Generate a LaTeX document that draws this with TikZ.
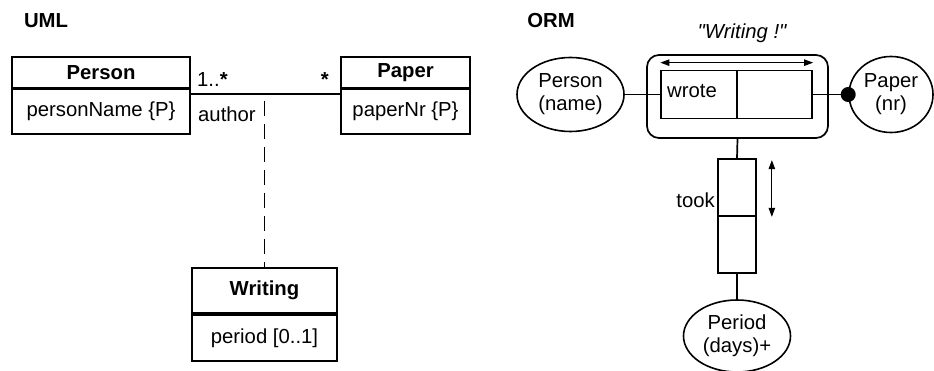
\documentclass[tikz,border=0pt]{standalone}
\usepackage{fontspec}
\setmainfont{Liberation Sans}
\newfontfamily\plainsans{Liberation Sans}
\usetikzlibrary{arrows.meta,shapes.geometric}
\tikzset{
  umlbox/.style={draw, line width=1.8pt, inner sep=0pt, minimum width=#1},
  txt/.style={inner sep=0pt},
  ell/.style={draw, ellipse, line width=1.6pt, inner sep=0pt, align=center},
  rolebox/.style={draw, line width=1.7pt, inner sep=0pt, minimum width=75.5pt, minimum height=48pt},
  tookbox/.style={draw, line width=1.7pt, inner sep=0pt, minimum width=38pt, minimum height=57pt},
  conn/.style={line width=1.7pt},
  uniq/.style={line width=1pt, {Triangle[length=9pt,width=6.5pt]}-{Triangle[length=9pt,width=6.5pt]}},
}
\begin{document}
\begin{tikzpicture}[x=1pt,y=-1pt,font=\fontsize{20.3}{23}\selectfont]
\useasboundingbox (0,0) rectangle (934,371);

% ---------------- UML ----------------
\node[txt, font=\fontsize{20.3}{23}\selectfont\bfseries] (umltitle) at (46,21) {UML};

\node[umlbox=178pt, minimum height=30.5pt] (person) at (101,72.25) {\bfseries Person};
\node[umlbox=178pt, minimum height=44.5pt, anchor=north] (personattr) at (person.south) {personName \{P\}};

\node[umlbox=129pt, minimum height=30.5pt] (paper) at (405.5,72.25) {\bfseries Paper};
\node[umlbox=129pt, minimum height=44.5pt, anchor=north] (paperattr) at (paper.south) {paperNr \{P\}};

\draw[conn] ([yshift=-5.5pt]personattr.north east) -- ([yshift=-5.5pt]paperattr.north west);

\node[txt, anchor=base west] (mult1) at (197,87) {1..\textbf{*}};
\node[txt, anchor=base east] (mult2) at (329,87) {\textbf{*}};
\node[txt, anchor=base west] (role) at (198,122) {author};

\node[umlbox=145pt, minimum height=45pt] (writing) at (264.5,290.5) {\bfseries Writing};
\node[umlbox=145pt, minimum height=46pt, anchor=north] (writingattr) at (writing.south) {period [0..1]};

\coordinate (assocmid) at (264.5,93);
\draw[line width=1.6pt, dash pattern=on 15pt off 8pt] ([yshift=-8pt]assocmid) -- (writing.north);

% ---------------- ORM ----------------
\node[txt, font=\fontsize{20.3}{23}\selectfont\bfseries] (ormtitle) at (551,21) {ORM};

\node[draw, line width=1.7pt, rounded corners=12pt, minimum width=181pt, minimum height=83pt, inner sep=0pt] (objfact) at (737.5,96.5) {};
\node[rolebox] (r1) at (699,94.5) {};
\node[rolebox] (r2) at (774.5,94.5) {};
\node[txt, anchor=base west] (wrote) at (667,98) {wrote};
\node[txt, anchor=base, font=\fontsize{20.3}{23}\plainsans\itshape] (objname) at (742,39) {"Writing !"};
\draw[uniq] ([yshift=7pt]r1.north west) -- ([yshift=7pt]r2.north east);

\node[ell, minimum width=107pt, minimum height=74pt] (personE) at (570.5,94.5) {Person\\(name)};
\node[ell, minimum width=84pt, minimum height=76pt] (paperE) at (891,94.5) {Paper\\(nr)};

\draw[conn] (personE.east) -- (r1.west);
\draw[conn] (r2.east) -- (paperE.west);
\fill (paperE.west) circle (7.5pt);

\node[tookbox] (t1) at (737,187.5) {};
\node[tookbox] (t2) at (737,244.5) {};
\draw[conn] (objfact.south) -- (t1.north);
\node[txt, anchor=base east] (took) at (715,208) {took};
\draw[uniq] ([xshift=15pt,yshift=-2pt]t1.north east) -- ([xshift=15pt]t1.south east);

\node[ell, minimum width=107pt, minimum height=72pt] (periodE) at (737,336) {Period\\(days)+};
\draw[conn] (t2.south) -- (periodE.north);
\end{tikzpicture}
\end{document}
